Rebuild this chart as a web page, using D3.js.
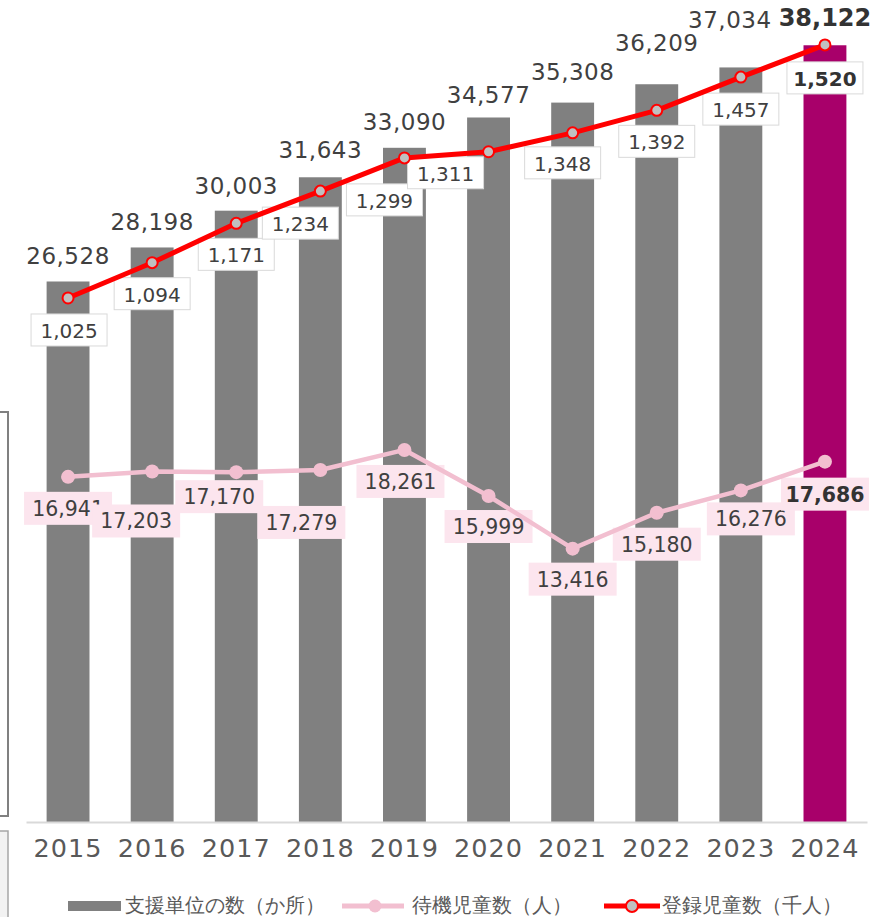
<!DOCTYPE html>
<html><head><meta charset="utf-8">
<script src="https://cdn.jsdelivr.net/npm/d3@7"></script>
<style>
html,body{margin:0;padding:0;background:#fff;}
svg{display:block;}
text{font-family:"DejaVu Sans",sans-serif;}
</style></head>
<body>
<svg id="chart" width="874" height="917"></svg>
<script>
// ---- data ----
const years = ["2015","2016","2017","2018","2019","2020","2021","2022","2023","2024"];
const supportUnits = [26528, 28198, 30003, 31643, 33090, 34577, 35308, 36209, 37034, 38122];
const waitingChildren = [16941, 17203, 17170, 17279, 18261, 15999, 13416, 15180, 16276, 17686];
const registeredChildren = [1025, 1094, 1171, 1234, 1299, 1311, 1348, 1392, 1457, 1520];
const legendLabels = ["支援単位の数（か所）", "待機児童数（人）", "登録児童数（千人）"];

// ---- label layout (offsets relative to marks) ----
const barLabelDx = [0,0,0,0,0,0,0,0,-11,0];
const barLabelDy = [17,17,17,19,18,14,23,33,39,19];
const regLabelDx = [1,0,0,-20,-20,-43,-10,0,0,0];
const regLabelDy = [16,15,15,16,26,5,14,15,16,17];
const waitLabelDx = [0,-16,-17,-19,-4,0,0,0,10,0];
const waitLabelDy = [15,33,8,36,15,14,14,15,12,16];

const svg = d3.select("#chart");
const fmt = d3.format(",");
const last = years.length - 1;

// left decoration boxes (cropped neighbouring element)
svg.append("rect").attr("x",-10).attr("y",412).attr("width",18).attr("height",404)
  .attr("fill","#fff").attr("stroke","#808080").attr("stroke-width",2);
svg.append("rect").attr("x",-10).attr("y",831).attr("width",18).attr("height",120)
  .attr("fill","#f2f2f2").attr("stroke","#a6a6a6").attr("stroke-width",1.5);

const x = d3.scaleBand().domain(years).range([26, 867]);
const yBar = d3.scaleLinear().domain([0, 40000]).range([822, 7]);
const yReg = d3.scaleLinear().domain([0, 1600]).range([822, 4]);
const bw = x.bandwidth() * 0.51;
const cx = d => x(d) + x.bandwidth() / 2;

// bars
svg.append("g").selectAll("rect").data(years).join("rect")
  .attr("x", d => cx(d) - bw/2)
  .attr("y", (d,i) => yBar(supportUnits[i]))
  .attr("width", bw)
  .attr("height", (d,i) => yBar(0) - yBar(supportUnits[i]))
  .attr("fill", (d,i) => i === last ? "#a8006a" : "#808080");

// axis
const axis = svg.append("g").attr("transform","translate(0,822)")
  .call(d3.axisBottom(x).tickSize(0).tickSizeOuter(0).tickPadding(17));
axis.select(".domain").attr("stroke","#d9d9d9").attr("stroke-width",2);
axis.selectAll("text").attr("font-family","DejaVu Sans").attr("font-size",25.5)
  .attr("letter-spacing",1).attr("fill","#595959");

// bar value labels
svg.append("g").selectAll("text").data(years).join("text")
  .attr("x", (d,i) => cx(d) + barLabelDx[i])
  .attr("y", (d,i) => yBar(supportUnits[i]) - barLabelDy[i])
  .attr("text-anchor","middle")
  .attr("font-size", (d,i) => i === last ? 24 : 23)
  .attr("font-weight", (d,i) => i === last ? "bold" : "normal")
  .attr("letter-spacing", (d,i) => i === last ? 0 : 0.5)
  .attr("fill", (d,i) => i === last ? "#333333" : "#404040")
  .text((d,i) => fmt(supportUnits[i]));

// waiting children labels
const wl = svg.append("g").selectAll("g").data(years).join("g")
  .attr("transform", (d,i) => `translate(${cx(d) + waitLabelDx[i]},${yBar(waitingChildren[i]) + waitLabelDy[i]})`);
wl.append("rect").attr("x",-44).attr("y",0).attr("width",88).attr("height",33).attr("fill","#fce5ee");
wl.append("text").attr("x",0).attr("y",24).attr("text-anchor","middle")
  .attr("font-size",20.5)
  .attr("font-weight",(d,i) => i === last ? "bold" : "normal")
  .attr("fill",(d,i) => i === last ? "#333333" : "#404040")
  .text((d,i) => fmt(waitingChildren[i]));

// registered children labels
const rl = svg.append("g").selectAll("g").data(years).join("g")
  .attr("transform", (d,i) => `translate(${cx(d) + regLabelDx[i]},${yReg(registeredChildren[i]) + regLabelDy[i]})`);
rl.append("rect").attr("x",-38).attr("y",0).attr("width",76).attr("height",32)
  .attr("fill","#fff").attr("stroke","#d9d9d9").attr("stroke-width",1);
rl.append("text").attr("x",0).attr("y",24).attr("text-anchor","middle")
  .attr("font-size",20)
  .attr("font-weight",(d,i) => i === last ? "bold" : "normal")
  .attr("fill",(d,i) => i === last ? "#333333" : "#404040")
  .text((d,i) => fmt(registeredChildren[i]));

// waiting line
const wLine = d3.line().x((d,i) => cx(years[i])).y(d => yBar(d));
svg.append("path").datum(waitingChildren).attr("d", wLine)
  .attr("fill","none").attr("stroke","#f2bfd0").attr("stroke-width",4.5).attr("stroke-linejoin","round");
svg.append("g").selectAll("circle").data(waitingChildren).join("circle")
  .attr("cx",(d,i) => cx(years[i])).attr("cy", d => yBar(d)).attr("r",7).attr("fill","#f2bfd0");

// registered line
const rLine = d3.line().x((d,i) => cx(years[i])).y(d => yReg(d));
svg.append("path").datum(registeredChildren).attr("d", rLine)
  .attr("fill","none").attr("stroke","#ff0000").attr("stroke-width",5).attr("stroke-linejoin","round");
svg.append("g").selectAll("circle").data(registeredChildren).join("circle")
  .attr("cx",(d,i) => cx(years[i])).attr("cy", d => yReg(d)).attr("r",5.5)
  .attr("fill","#c0c0c0").attr("stroke","#ff0000").attr("stroke-width",2);

// legend
const lg = svg.append("g");
lg.append("rect").attr("x",68).attr("y",901).attr("width",53).attr("height",10).attr("fill","#808080");
lg.append("line").attr("x1",342).attr("x2",404).attr("y1",906).attr("y2",906)
  .attr("stroke","#f2bfd0").attr("stroke-width",5);
lg.append("circle").attr("cx",375).attr("cy",906).attr("r",6.5).attr("fill","#f2bfd0");
lg.append("line").attr("x1",604).attr("x2",660).attr("y1",906).attr("y2",906)
  .attr("stroke","#ff0000").attr("stroke-width",5);
lg.append("circle").attr("cx",632).attr("cy",906).attr("r",6).attr("fill","#c0c0c0")
  .attr("stroke","#ff0000").attr("stroke-width",2);
const lx = [125, 412, 662];
lg.selectAll("text").data(legendLabels).join("text")
  .attr("x",(d,i) => lx[i]).attr("y",912)
  .attr("font-family","'Noto Sans CJK JP',sans-serif")
  .attr("font-size",20).attr("fill","#595959")
  .text(d => d);
</script>
</body></html>
